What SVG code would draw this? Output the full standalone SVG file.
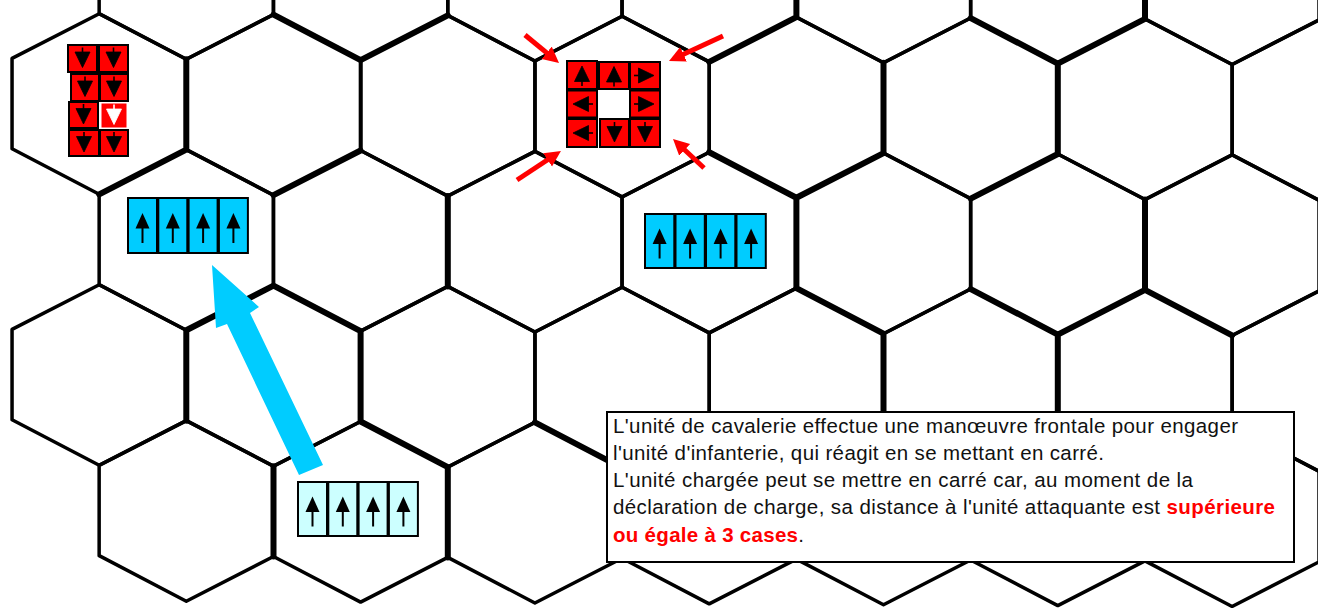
<svg xmlns="http://www.w3.org/2000/svg" xmlns:xlink="http://www.w3.org/1999/xlink" width="1318" height="608" viewBox="0 0 1318 608">
<style>
.grid{fill:none;stroke:#000;stroke-width:3.5;stroke-linejoin:round}
.thick{fill:none;stroke:#000;stroke-width:6;stroke-linecap:round;stroke-linejoin:round}
.rsq{fill:#ff0000;stroke:#000;stroke-width:2}
.bsq{fill:#00ccff;stroke:#000;stroke-width:2}
.lsq{fill:#ccffff;stroke:#000;stroke-width:2}
.glyph{fill:#000;stroke:#000;stroke-width:1.6}
.txt{font-family:"Liberation Sans",Arial,sans-serif;font-size:20.5px;fill:#111}
.hl{fill:#ff0000;font-weight:bold}
.rarrow{fill:none;stroke:#ff0000;stroke-width:5}
</style>
<defs>
<polygon id="hx" points="0,-90.3 87.15,-45.15 87.15,45.15 0,90.3 -87.15,45.15 -87.15,-45.15"/>
<g id="ar"><line x1="0" y1="-11" x2="0" y2="-5"/><polygon points="-7.5,-6.5 7.5,-6.5 0,9" stroke-width="0.8"/></g>
<g id="ba"><polygon points="0,-12.5 -7,3 7,3" stroke="none"/><line x1="0" y1="2" x2="0" y2="17.5" stroke-width="2"/></g>
<marker id="rh" markerUnits="userSpaceOnUse" markerWidth="18" markerHeight="18" refX="6" refY="8" orient="auto"><path d="M0,0 L16,8 L0,16 z" fill="#ff0000"/></marker>
</defs>
<rect width="1318" height="608" fill="#fff"/>
<g id="grid" transform="matrix(1 0.005 0 1 0 0)">
<g class="grid">
<use href="#hx" x="186.3" y="-32"/><use href="#hx" x="360.6" y="-32"/><use href="#hx" x="534.9" y="-32"/><use href="#hx" x="709.2" y="-32"/><use href="#hx" x="883.5" y="-32"/><use href="#hx" x="1057.8" y="-32"/><use href="#hx" x="1232.1" y="-32"/><use href="#hx" x="1406.4" y="-32"/>
<use href="#hx" x="99.2" y="103.5"/><use href="#hx" x="273.5" y="103.5"/><use href="#hx" x="447.8" y="103.5"/><use href="#hx" x="622.1" y="103.5"/><use href="#hx" x="796.4" y="103.5"/><use href="#hx" x="970.7" y="103.5"/><use href="#hx" x="1145" y="103.5"/><use href="#hx" x="1319.3" y="103.5"/>
<use href="#hx" x="186.3" y="239"/><use href="#hx" x="360.6" y="239"/><use href="#hx" x="534.9" y="239"/><use href="#hx" x="709.2" y="239"/><use href="#hx" x="883.5" y="239"/><use href="#hx" x="1057.8" y="239"/><use href="#hx" x="1232.1" y="239"/><use href="#hx" x="1406.4" y="239"/>
<use href="#hx" x="99.2" y="374.5"/><use href="#hx" x="273.5" y="374.5"/><use href="#hx" x="447.8" y="374.5"/><use href="#hx" x="622.1" y="374.5"/><use href="#hx" x="796.4" y="374.5"/><use href="#hx" x="970.7" y="374.5"/><use href="#hx" x="1145" y="374.5"/><use href="#hx" x="1319.3" y="374.5"/>
<use href="#hx" x="186.3" y="510"/><use href="#hx" x="360.6" y="510"/><use href="#hx" x="534.9" y="510"/><use href="#hx" x="709.2" y="510"/><use href="#hx" x="883.5" y="510"/><use href="#hx" x="1057.8" y="510"/><use href="#hx" x="1232.1" y="510"/><use href="#hx" x="1406.4" y="510"/>
</g>
<path class="thick" d="M186.3,58.3V148.7 M99.2,193.8L186.3,148.7 M273.5,13.2L360.6,58.3L447.8,13.2 M273.5,193.8L360.6,148.7 M709.2,58.3L796.4,13.2 M709.2,148.7L796.4,193.8L883.5,148.7 M970.7,13.2L1057.8,58.3L1145,13.2 M883.5,58.3V148.7 M1057.8,58.3V148.7 M970.7,193.8L1057.8,148.7 M796.4,193.8V284.2 M1145,193.8V284.2 M447.8,193.8V284.2 M186.3,329.3L273.5,284.2L360.6,329.3 M186.3,329.3V419.7 M360.6,329.3V419.7 M360.6,419.7L447.8,464.8 M534.9,419.7L622.1,464.8 M273.5,464.8V555.2 M447.8,464.8V555.2 M796.4,284.2L883.5,329.3 M970.7,284.2L1057.8,329.3L1145,284.2L1232.1,329.3 M883.5,329.3V419.7 M1057.8,329.3V419.7 M796.4,-5V13.2 M1145,-5V13.2"/>
<path class="grid" stroke-width="4.5" d="M360.6,58.3V148.7"/>
</g>
<g id="infantry-square">
<rect class="rsq" x="567" y="61" width="30" height="28"/><rect class="rsq" x="599" y="62" width="30" height="27"/><rect class="rsq" x="630" y="62" width="30" height="27"/>
<rect class="rsq" x="567" y="90.5" width="30" height="27"/><rect class="rsq" x="630" y="90.5" width="30" height="27"/>
<rect class="rsq" x="567" y="119" width="30" height="28"/><rect class="rsq" x="600" y="119" width="29" height="28"/><rect class="rsq" x="630" y="119" width="30" height="28"/>
<g class="glyph">
<use href="#ar" transform="translate(582,75) rotate(180)"/><use href="#ar" transform="translate(614,75.5) rotate(180)"/><use href="#ar" transform="translate(645,75.5) rotate(-90)"/>
<use href="#ar" transform="translate(582,104) rotate(90)"/><use href="#ar" transform="translate(645,104) rotate(-90)"/>
<use href="#ar" transform="translate(582,133) rotate(90)"/><use href="#ar" transform="translate(614.5,133)"/><use href="#ar" transform="translate(645,133)"/>
</g>
</g>
<g id="red-unit">
<rect class="rsq" x="68" y="45" width="29" height="27"/><rect class="rsq" x="99" y="45" width="29" height="27"/>
<rect class="rsq" x="71" y="74" width="28" height="27"/><rect class="rsq" x="100" y="74" width="28" height="27"/>
<rect class="rsq" x="69" y="102" width="29" height="26"/><rect x="101" y="103" width="26" height="25" fill="#ff0000" stroke="#fff" stroke-width="1"/>
<rect class="rsq" x="69" y="130" width="30" height="26"/><rect class="rsq" x="100" y="130" width="28" height="26"/>
<g class="glyph">
<use href="#ar" transform="translate(82.5,58.5)"/><use href="#ar" transform="translate(113.5,58.5)"/>
<use href="#ar" transform="translate(85,87.5)"/><use href="#ar" transform="translate(114,87.5)"/>
<use href="#ar" transform="translate(83.5,115)"/>
<use href="#ar" transform="translate(84,143)"/><use href="#ar" transform="translate(114,143)"/>
</g>
<g fill="#fff" stroke="#fff" stroke-width="1.6"><use href="#ar" transform="translate(114,115.5)"/></g>
</g>
<g id="cavalry-1">
<rect class="bsq" x="128" y="198" width="29" height="55"/><rect class="bsq" x="158.3" y="198" width="29" height="55"/><rect class="bsq" x="188.6" y="198" width="29" height="55"/><rect class="bsq" x="218.9" y="198" width="29" height="55"/>
<g class="glyph"><use href="#ba" x="142.5" y="225.5"/><use href="#ba" x="172.8" y="225.5"/><use href="#ba" x="203.1" y="225.5"/><use href="#ba" x="233.4" y="225.5"/></g>
</g>
<g id="cavalry-2">
<rect class="bsq" x="645" y="214" width="29.3" height="54"/><rect class="bsq" x="675.5" y="214" width="29.3" height="54"/><rect class="bsq" x="706" y="214" width="29.3" height="54"/><rect class="bsq" x="736.5" y="214" width="29.3" height="54"/>
<g class="glyph"><use href="#ba" x="659.6" y="241"/><use href="#ba" x="690.1" y="241"/><use href="#ba" x="720.6" y="241"/><use href="#ba" x="751.1" y="241"/></g>
</g>
<g id="cavalry-3">
<rect class="lsq" x="298" y="482" width="29" height="54"/><rect class="lsq" x="328.3" y="482" width="29" height="54"/><rect class="lsq" x="358.6" y="482" width="29" height="54"/><rect class="lsq" x="388.9" y="482" width="29" height="54"/>
<g class="glyph"><use href="#ba" x="312.5" y="509"/><use href="#ba" x="342.8" y="509"/><use href="#ba" x="373.1" y="509"/><use href="#ba" x="403.4" y="509"/></g>
</g>
<g id="arrows">
<polygon points="212,265 259,307 250,313 323,465 299,475 227,324 216,328" fill="#00ccff"/>
<line class="rarrow" x1="525" y1="35" x2="551.3" y2="56.6" marker-end="url(#rh)"/>
<line class="rarrow" x1="723" y1="36" x2="678.1" y2="56.8" marker-end="url(#rh)"/>
<line class="rarrow" x1="517" y1="180" x2="552.6" y2="156.5" marker-end="url(#rh)"/>
<line class="rarrow" x1="704" y1="168" x2="680.3" y2="145.8" marker-end="url(#rh)"/>
</g>
<g id="note">
<rect x="607" y="412" width="687" height="150" fill="#fff" stroke="#000" stroke-width="2"/>
<text class="txt" x="613" y="433" textLength="625" lengthAdjust="spacing">L'unité de cavalerie effectue une manœuvre frontale pour engager</text>
<text class="txt" x="613" y="460" textLength="491" lengthAdjust="spacing">l'unité d'infanterie, qui réagit en se mettant en carré.</text>
<text class="txt" x="613" y="487" textLength="580" lengthAdjust="spacing">L'unité chargée peut se mettre en carré car, au moment de la</text>
<text class="txt" x="613" y="514" textLength="662" lengthAdjust="spacing">déclaration de charge, sa distance à l'unité attaquante est <tspan class="hl">supérieure</tspan></text>
<text class="txt" x="613" y="542" textLength="191" lengthAdjust="spacing"><tspan class="hl">ou égale à 3 cases</tspan>.</text>
</g>
</svg>
